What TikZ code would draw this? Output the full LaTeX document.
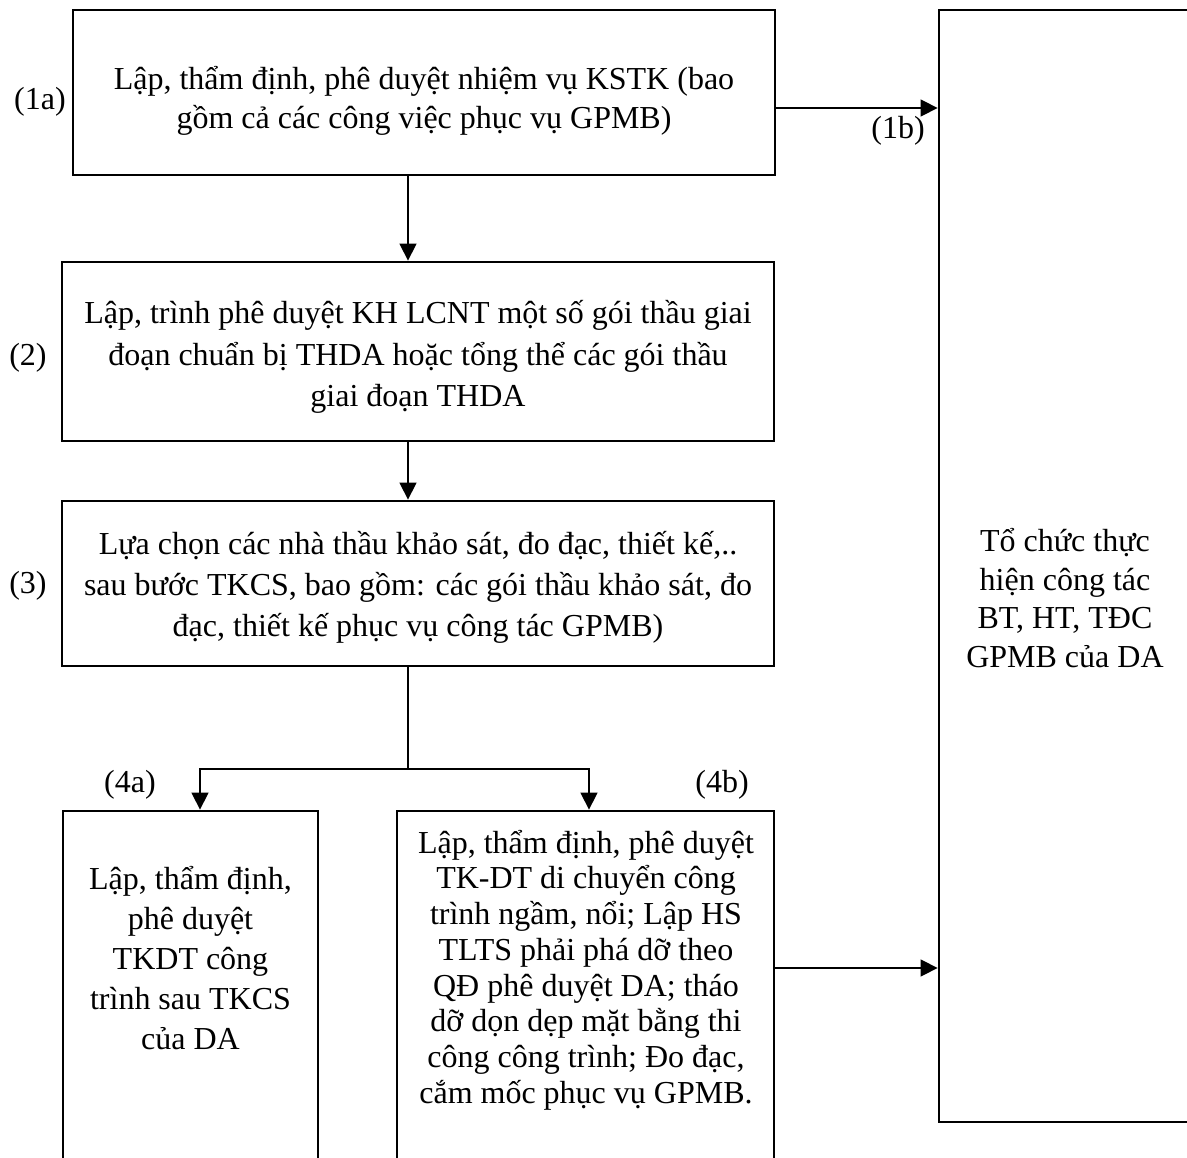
\documentclass[tikz,border=0pt]{standalone}
\usepackage{fontspec}
\setmainfont{Liberation Serif}
\usetikzlibrary{arrows.meta}
\begin{document}
\begin{tikzpicture}[x=1pt,y=-1pt,
  flowbox/.style={draw, line width=2.8pt, rectangle, inner sep=0pt},
  txt/.style={align=center, font=\fontsize{32}{40}\selectfont, inner sep=0pt},
  conn/.style={line width=1.4pt},
  arr/.style={conn, -{Triangle[length=17pt,width=17pt]}},
  lbl/.style={font=\fontsize{32}{36}\selectfont, inner sep=0pt}]
\useasboundingbox (0,0) rectangle (1187,1158);
\clip (0,0) rectangle (1187,1158);
\fill[white] (0,0) rectangle (1187,1158);
% boxes
\node[flowbox, minimum width=702pt, minimum height=165pt] (b1) at (424,92.5) {};
\node[flowbox, minimum width=712pt, minimum height=179pt] (b2) at (418,351.5) {};
\node[flowbox, minimum width=712pt, minimum height=165pt] (b3) at (418,583.5) {};
\node[flowbox, minimum width=255pt, minimum height=369pt] (b4a) at (190.5,995.5) {};
\node[flowbox, minimum width=377pt, minimum height=369pt] (b4b) at (585.5,995.5) {};
\node[flowbox, minimum width=256pt, minimum height=1112pt] (bR) at (1067,566) {};
% texts
\node[txt, font=\fontsize{32}{39}\selectfont] (t1) at (424,101) {Lập, thẩm định, phê duyệt nhiệm vụ KSTK (bao\\gồm cả các công việc phục vụ GPMB)};
\node[txt, font=\fontsize{32}{41.5}\selectfont] (t2) at (418,357) {Lập, trình phê duyệt KH LCNT một số gói thầu giai\\đoạn chuẩn bị THDA hoặc tổng thể các gói thầu\\giai đoạn THDA};
\node[txt, font=\fontsize{32}{41}\selectfont] (t3) at (418,587) {Lựa chọn các nhà thầu khảo sát, đo đạc, thiết kế,..\\sau bước TKCS, bao gồm: các gói thầu khảo sát, đo\\đạc, thiết kế phục vụ công tác GPMB)};
\node[txt] (t4a) at (190.5,958) {Lập, thẩm định,\\phê duyệt\\TKDT công\\trình sau TKCS\\của DA};
\node[txt, font=\fontsize{32}{35.7}\selectfont] (t4b) at (586,970) {Lập, thẩm định, phê duyệt\\TK-DT di chuyển công\\trình ngầm, nổi; Lập HS\\TLTS phải phá dỡ theo\\QĐ phê duyệt DA; tháo\\dỡ dọn dẹp mặt bằng thi\\công công trình; Đo đạc,\\cắm mốc phục vụ GPMB.};
\node[txt, font=\fontsize{32}{38.5}\selectfont] (tR) at (1065,598) {Tổ chức thực\\hiện công tác\\BT, HT, TĐC\\GPMB của DA};
% labels
\node[lbl] (l1a) at (40,102) {(1a)};
\node[lbl] (l1b) at (898,131) {(1b)};
\node[lbl] (l2) at (28,358) {(2)};
\node[lbl] (l3) at (28,586) {(3)};
\node[lbl] (l4a) at (130,785) {(4a)};
\node[lbl] (l4b) at (722,785) {(4b)};
% connectors
\draw[arr] ([yshift=-15.5pt]b1.east) -- ([yshift=-15.5pt]b1.east -| bR.west);
\draw[arr] ([xshift=-16pt]b1.south) -- ([xshift=-16pt]b1.south |- b2.north);
\draw[arr] ([xshift=-10pt]b2.south) -- ([xshift=-10pt]b2.south |- b3.north);
\coordinate (split) at (408,769);
\draw[conn] ([xshift=-10pt]b3.south) -- (split);
\draw[arr] (split) -| ([xshift=9.5pt]b4a.north);
\draw[arr] (split) -| ([xshift=3.5pt]b4b.north);
\draw[arr] ([yshift=27.5pt]b4b.east) -- ([yshift=27.5pt]b4b.east -| bR.west);
\end{tikzpicture}
\end{document}
